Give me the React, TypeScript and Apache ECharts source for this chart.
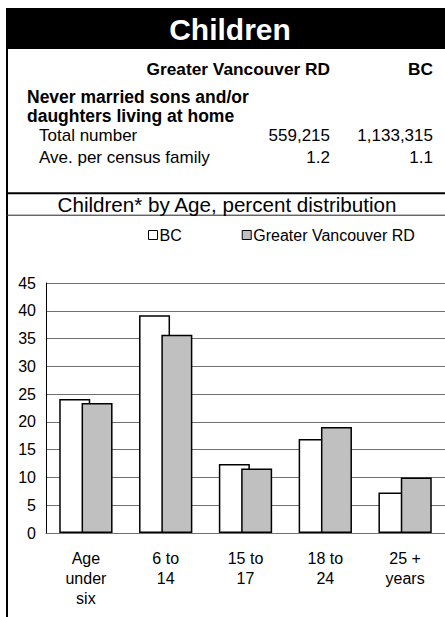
import React, { useEffect, useRef } from "react";
import * as echarts from "echarts";

const categories = ["Age\nunder\nsix", "6 to\n14", "15 to\n17", "18 to\n24", "25 +\nyears"];
const seriesNames = ["BC", "Greater Vancouver RD"];
const bcValues = [24.1, 39.2, 12.4, 16.9, 7.3];
const gvrdValues = [23.4, 35.7, 11.6, 19.1, 10.0];
const yMin = 0;
const yMax = 45;
const yStep = 5;

const tableTitle = "Children";
const columnHeaders = ["Greater Vancouver RD", "BC"];
const groupLabel = ["Never married sons and/or", "daughters living at home"];
const rowLabels = ["Total number", "Ave. per census family"];
const gvrdRow = ["559,215", "1.2"];
const bcRow = ["1,133,315", "1.1"];
const chartTitle = "Children* by Age, percent distribution";

const FONT = "'Liberation Sans', Arial, sans-serif";

function txt(text: string, x: number, y: number, size: number, opts: any = {}) {
  const align = opts.align || "left";
  return {
    type: "text",
    x,
    y,
    silent: true,
    style: {
      text,
      fontSize: size,
      fontFamily: FONT,
      fontWeight: opts.bold ? "bold" : "normal",
      fill: opts.fill || "#000",
      align,
      textAlign: align,
      verticalAlign: "middle",
      textVerticalAlign: "middle",
    },
  };
}

export default function App() {
  const ref = useRef<HTMLDivElement>(null);
  useEffect(() => {
    document.body.style.margin = "0";
    const chart = echarts.init(ref.current!, null, { renderer: "svg" });
    const graphics: any[] = [
      { type: "rect", silent: true, shape: { x: 6, y: 8, width: 445, height: 41 }, style: { fill: "#000" } },
      txt(tableTitle, 230, 29, 30, { bold: true, fill: "#fff", align: "center" }),
      { type: "line", silent: true, shape: { x1: 7, y1: 8, x2: 7, y2: 617 }, style: { stroke: "#000", lineWidth: 2 } },
      { type: "line", silent: true, shape: { x1: 6, y1: 193.3, x2: 445, y2: 193.3 }, style: { stroke: "#000", lineWidth: 2 } },
      { type: "line", silent: true, shape: { x1: 6, y1: 215.2, x2: 445, y2: 215.2 }, style: { stroke: "#222", lineWidth: 1 } },
      txt(columnHeaders[0], 330, 69, 17.3, { bold: true, align: "right" }),
      txt(columnHeaders[1], 433, 69, 17.3, { bold: true, align: "right" }),
      txt(groupLabel[0], 27, 97, 17.5, { bold: true }),
      txt(groupLabel[1], 27, 116, 17.5, { bold: true }),
      txt(rowLabels[0], 39, 135.5, 17),
      txt(rowLabels[1], 39, 157, 17),
      txt(gvrdRow[0], 330, 135.5, 17, { align: "right" }),
      txt(bcRow[0], 433, 135.5, 17, { align: "right" }),
      txt(gvrdRow[1], 330, 157, 17, { align: "right" }),
      txt(bcRow[1], 433, 157, 17, { align: "right" }),
      txt(chartTitle, 227, 204, 20.6, { align: "center" }),
    ];

    chart.setOption({
      animation: false,
      textStyle: { fontFamily: FONT },
      graphic: graphics,
      legend: {
        left: 148,
        top: 227,
        padding: 0,
        itemWidth: 9,
        itemHeight: 9,
        itemGap: 60,
        icon: "rect",
        data: seriesNames,
        itemStyle: { borderColor: "#000", borderWidth: 1 },
        textStyle: { fontSize: 16, color: "#000", fontFamily: FONT, padding: [0, 0, 0, -3] },
      },
      grid: { left: 46, top: 283, width: 400, height: 250 },
      xAxis: {
        type: "category",
        data: categories,
        axisLine: { lineStyle: { color: "#707070", width: 1 } },
        axisTick: { show: false },
        axisLabel: { fontSize: 16, lineHeight: 20, color: "#000", margin: 15, interval: 0, fontFamily: FONT },
      },
      yAxis: {
        type: "value",
        min: yMin,
        max: yMax,
        interval: yStep,
        axisLine: { show: true, lineStyle: { color: "#000", width: 1 } },
        axisTick: { show: false },
        splitLine: { lineStyle: { color: "#707070", width: 1 } },
        axisLabel: { fontSize: 16, color: "#000", margin: 10, fontFamily: FONT },
      },
      series: [
        {
          type: "bar",
          name: seriesNames[0],
          data: bcValues,
          barWidth: 31,
          barGap: "-28%",
          itemStyle: { color: "#fff", borderColor: "#000", borderWidth: 1.5 },
        },
        {
          type: "bar",
          name: seriesNames[1],
          data: gvrdValues,
          barWidth: 31,
          barGap: "-28%",
          itemStyle: { color: "#c0c0c0", borderColor: "#000", borderWidth: 1.5 },
        },
      ],
    });
    return () => chart.dispose();
  }, []);
  return <div ref={ref} style={{ position: "absolute", left: 0, top: 0, width: 445, height: 617 }} />;
}
